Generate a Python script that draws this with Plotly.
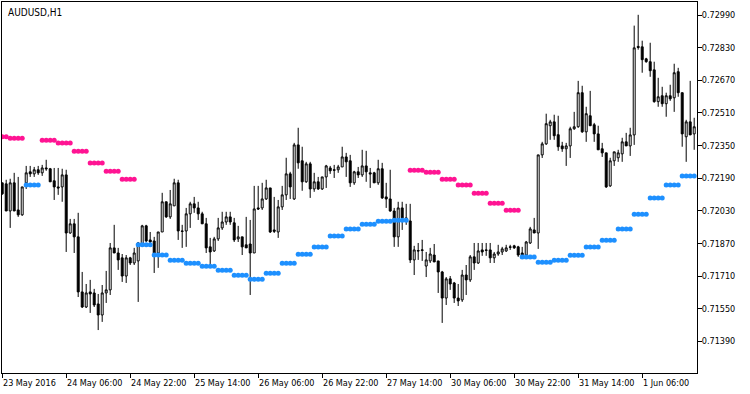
import plotly.graph_objects as go

N = None
open_ = [.72167,.72162,.72029,.72167,.72034,.72010,.72167,.72221,.72211,.72231,.72216,.72240,.72236,.72177,.72147,.72147,
 .72206,.71921,.71966,.71902,.71632,.71558,.71632,.71627,.71573,.71519,.71627,.71642,.71848,.71823,.71799,.71710,
 .71799,.71774,.71784,.71863,.71956,.71887,.71882,.71823,.71926,.72074,.72000,.72054,.72167,.71931,.71931,.72015,
 .72064,.72044,.72015,.71966,.71853,.71833,.71892,.71946,.71975,.72000,.71971,.71892,.71902,.71863,.71867,.71823,
 .72044,.72044,.72088,.72142,.71936,.71926,.72049,.72108,.72211,.72088,.72353,.72275,.72172,.72260,.72137,.72172,
 .72137,.72196,.72240,.72231,.72231,.72245,.72294,.72275,.72167,.72221,.72206,.72250,.72216,.72216,.72167,.72236,
 .72098,.72088,.72029,.71902,.72044,.71995,.71980,.71789,.71835,.71835,.71759,.71784,.71813,.71784,.71730,.71602,
 .71696,.71676,.71602,.71593,.71715,.71691,.71804,.71774,.71838,.71838,.71838,.71799,.71818,.71828,.71833,.71853,
 .71858,.71853,.71823,.71813,.71872,.71936,.71921,.72304,.72358,.72447,.72466,.72403,.72348,.72334,.72348,.72432,
 .72442,.72609,.72417,.72496,.72452,.72407,.72334,.72314,.72152,.72275,.72290,.72309,.72368,.72348,.72402,.72836,
 .72834,.72775,.72761,.72721,.72565,.72594,.72555,.72594,.72584,.72712,.72609,.72393,.72466,.72407]
high = [.72167,.72182,.72187,.72216,.72196,.72147,.72250,.72250,.72245,.72250,.72255,.72280,.72240,.72240,.72240,.72236,
 .72231,.71990,.71990,.72020,.71730,.71671,.71691,.71647,.71622,.71666,.71735,.71872,.71961,.71848,.71818,.71813,
 .71804,.71848,.71877,.71961,.71961,.71926,.71902,.71926,.72118,.72074,.72132,.72187,.72182,.71961,.72044,.72074,
 .72098,.72074,.72025,.71995,.71897,.71902,.71995,.72025,.72025,.72025,.71995,.71956,.71902,.72000,.71985,.72152,
 .72152,.72167,.72182,.72142,.72098,.72083,.72152,.72290,.72221,.72363,.72437,.72344,.72270,.72270,.72216,.72196,
 .72196,.72255,.72250,.72255,.72255,.72344,.72314,.72304,.72226,.72245,.72329,.72324,.72240,.72221,.72280,.72265,
 .72167,.72231,.72044,.72074,.72074,.72064,.72064,.71858,.71872,.71887,.71828,.71848,.71867,.71784,.71735,.71705,
 .71710,.71681,.71671,.71740,.71764,.71813,.71872,.71872,.71872,.71872,.71872,.71828,.71863,.71853,.71863,.71863,
 .71863,.71858,.71853,.71882,.71951,.71995,.72304,.72368,.72506,.72476,.72501,.72496,.72368,.72363,.72442,.72515,
 .72667,.72643,.72540,.72618,.72461,.72447,.72363,.72314,.72290,.72319,.72329,.72388,.72412,.72437,.72938,.72991,
 .72864,.72780,.72854,.72761,.72682,.72638,.72609,.72648,.72751,.72731,.72609,.72476,.72667,.72486]
low = [.72108,.72029,.71946,.72029,.72000,.72005,.72137,.72196,.72196,.72206,.72201,.72226,.72172,.72083,.72108,.72074,
 .71828,.71917,.71823,.71607,.71553,.71553,.71529,.71558,.71445,.71485,.71578,.71617,.71823,.71740,.71681,.71676,
 .71764,.71764,.71583,.71863,.71877,.71872,.71725,.71750,.71926,.71995,.71990,.72054,.71887,.71848,.71853,.71946,
 .72020,.71985,.71966,.71823,.71769,.71828,.71882,.71936,.71961,.71961,.71877,.71877,.71813,.71848,.71617,.71823,
 .72034,.72034,.72083,.71921,.71921,.71897,.72034,.72083,.72088,.72083,.72236,.72128,.72167,.72093,.72123,.72132,
 .72132,.72142,.72211,.72191,.72216,.72245,.72196,.72147,.72157,.72191,.72196,.72172,.72142,.72167,.72157,.72088,
 .72044,.72025,.71853,.71853,.71936,.71961,.71774,.71715,.71789,.71784,.71705,.71774,.71779,.71627,.71480,.71568,
 .71642,.71578,.71563,.71583,.71617,.71681,.71740,.71769,.71809,.71809,.71774,.71774,.71809,.71813,.71828,.71838,
 .71843,.71804,.71804,.71813,.71867,.71921,.71843,.72289,.72353,.72378,.72378,.72324,.72319,.72250,.72289,.72427,
 .72437,.72412,.72368,.72447,.72368,.72329,.72294,.72142,.72147,.72250,.72270,.72270,.72348,.72299,.72353,.72820,
 .72707,.72756,.72687,.72560,.72540,.72540,.72491,.72569,.72515,.72589,.72344,.72270,.72402,.72329]
close = [.72113,.72029,.72167,.72029,.72010,.72147,.72216,.72211,.72231,.72216,.72240,.72236,.72172,.72147,.72142,.72206,
 .71921,.71966,.71902,.71632,.71558,.71627,.71622,.71568,.71519,.71627,.71642,.71848,.71823,.71789,.71710,.71799,
 .71774,.71823,.71872,.71956,.71882,.71877,.71823,.71926,.72074,.72000,.72064,.72167,.71931,.71929,.72015,.72064,
 .72044,.72015,.71966,.71848,.71828,.71892,.71946,.71975,.72000,.71975,.71887,.71902,.71853,.71848,.71823,.72039,
 .72039,.72088,.72142,.71926,.71929,.72049,.72108,.72211,.72147,.72353,.72265,.72172,.72260,.72137,.72172,.72137,
 .72196,.72250,.72226,.72229,.72245,.72294,.72270,.72167,.72221,.72206,.72250,.72221,.72211,.72167,.72236,.72093,
 .72088,.72029,.71902,.72044,.71995,.71980,.71789,.71838,.71833,.71838,.71789,.71818,.71779,.71730,.71602,.71696,
 .71671,.71602,.71588,.71715,.71691,.71804,.71774,.71833,.71828,.71836,.71799,.71818,.71828,.71843,.71848,.71851,
 .71848,.71813,.71809,.71877,.71941,.71921,.72304,.72358,.72457,.72466,.72398,.72344,.72334,.72348,.72432,.72442,
 .72609,.72417,.72506,.72447,.72407,.72329,.72314,.72147,.72275,.72319,.72314,.72368,.72348,.72402,.72829,.72831,
 .72771,.72761,.72717,.72565,.72589,.72555,.72594,.72579,.72707,.72609,.72407,.72466,.72402,.72442]

# indicator: resistance dots (pink) and support dots (blue), per bar
pink = [.72393,.72393,.72386,.72386,.72386,.72386,N,N,N,N,.72376,.72376,.72376,.72376,.72362,.72362,
 .72362,.72362,.72322,.72322,.72322,.72322,.72264,.72264,.72264,.72264,.72224,.72224,.72224,.72224,.72185,.72185,
 .72185,.72185,N,N,N,N,N,N,N,N,N,N,N,N,N,N,
 N,N,N,N,N,N,N,N,N,N,N,N,N,N,N,N,
 N,N,N,N,N,N,N,N,N,N,N,N,N,N,N,N,
 N,N,N,N,N,N,N,N,N,N,N,N,N,N,N,N,
 N,N,N,N,N,N,.72229,.72229,.72229,.72229,.72219,.72219,.72219,.72219,.72185,.72185,
 .72185,.72185,.72156,.72156,.72156,.72156,.72116,.72116,.72116,.72116,.72067,.72067,.72067,.72067,.72033,.72033,
 .72033,.72033,N,N,N,N,N,N,N,N,N,N,N,N,N,N,
 N,N,N,N,N,N,N,N,N,N,N,N,N,N,N,N,
 N,N,N,N,N,N,N,N,N,N,N,N,N,N]
blue = [N,N,N,N,N,N,.72156,.72156,.72156,.72156,N,N,N,N,N,N,
 N,N,N,N,N,N,N,N,N,N,N,N,N,N,N,N,
 N,N,.71863,.71863,.71863,.71863,.71813,.71813,.71813,.71813,.71787,.71787,.71787,.71787,.71773,.71773,
 .71773,.71773,.71758,.71758,.71758,.71758,.71738,.71738,.71738,.71738,.71714,.71714,.71714,.71714,.71694,.71694,
 .71694,.71694,.71724,.71724,.71724,.71724,.71773,.71773,.71773,.71773,.71817,.71817,.71817,.71817,.71852,.71852,
 .71852,.71852,.71906,.71906,.71906,.71906,.71941,.71941,.71941,.71941,.71964,.71964,.71964,.71964,.71979,.71979,
 .71979,.71979,.71984,.71984,.71984,.71984,N,N,N,N,N,N,N,N,N,N,
 N,N,N,N,N,N,N,N,N,N,N,N,N,N,N,N,
 N,N,.71803,.71803,.71803,.71803,.71778,.71778,.71778,.71778,.71787,.71787,.71787,.71787,.71812,.71812,
 .71812,.71812,.71852,.71852,.71852,.71852,.71886,.71886,.71886,.71886,.71941,.71941,.71941,.71941,.72013,.72013,
 .72013,.72013,.72093,.72093,.72093,.72093,.72156,.72156,.72156,.72156,.72200,.72200,.72200,.72200]

x_tick_bars = [0, 16, 32, 48, 64, 80, 96, 112, 128, 144, 160]
x_tick_text = ["23 May 2016", "24 May 06:00", "24 May 22:00", "25 May 14:00", "26 May 06:00",
               "26 May 22:00", "27 May 14:00", "30 May 06:00", "30 May 22:00", "31 May 14:00", "1 Jun 06:00"]
y_ticks = [0.71390, 0.71550, 0.71710, 0.71870, 0.72030, 0.72190, 0.72350, 0.72510, 0.72670, 0.72830, 0.72990]

bars = list(range(len(open_)))
FONT = "DejaVu Sans Condensed, Liberation Sans, sans-serif"

fig = go.Figure()
fig.add_trace(go.Candlestick(
    x=bars, open=open_, high=high, low=low, close=close,
    increasing=dict(line=dict(color="black", width=1), fillcolor="white"),
    decreasing=dict(line=dict(color="black", width=1), fillcolor="black"),
    whiskerwidth=0, hoverinfo="skip", showlegend=False))
fig.add_trace(go.Scatter(x=bars, y=pink, mode="markers",
    marker=dict(color="#FF1493", size=5, line=dict(width=0)), showlegend=False, hoverinfo="skip"))
fig.add_trace(go.Scatter(x=bars, y=blue, mode="markers",
    marker=dict(color="#1E90FF", size=5, line=dict(width=0)), showlegend=False, hoverinfo="skip"))

annotations = [dict(text="AUDUSD,H1", xref="paper", yref="paper", x=0, y=1, xanchor="left", yanchor="top",
                    xshift=4, yshift=-3, showarrow=False, font=dict(family=FONT, size=10, color="black"))]
for b, t in zip(x_tick_bars, x_tick_text):
    annotations.append(dict(text=t, x=b, xref="x", y=0, yref="paper", xanchor="left", yanchor="top",
                            xshift=-1, yshift=-3, showarrow=False,
                            font=dict(family=FONT, size=9, color="black")))

fig.update_layout(
    width=750, height=394, margin=dict(l=2, r=53, t=2, b=21),
    paper_bgcolor="white", plot_bgcolor="white",
    annotations=annotations,
    xaxis=dict(range=[-0.05, 173.7], rangeslider=dict(visible=False), showgrid=False, zeroline=False,
               tickvals=x_tick_bars, ticktext=[""] * len(x_tick_bars), ticks="outside", ticklen=4,
               tickcolor="black", showline=True, linecolor="black", linewidth=1, mirror=True),
    yaxis=dict(range=[0.712344, 0.730538], side="right", showgrid=False, zeroline=False,
               tickvals=y_ticks, ticktext=[f"{v:.5f}" for v in y_ticks], ticks="outside", ticklen=4,
               ticklabelstandoff=-2,
               tickcolor="black", showline=True, linecolor="black", linewidth=1, mirror=True,
               tickfont=dict(family=FONT, size=9, color="black")),
)
fig.write_html("out.html")
